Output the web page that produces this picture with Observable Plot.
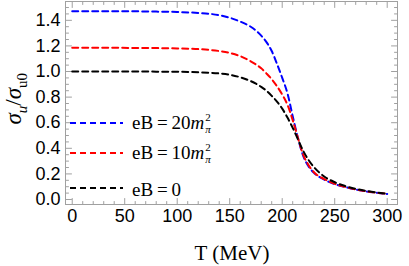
<!DOCTYPE html>
<html><head><meta charset="utf-8">
<script src="https://cdn.jsdelivr.net/npm/d3@7"></script>
<script src="https://cdn.jsdelivr.net/npm/@observablehq/plot@0.6"></script>
<style>
body{margin:0;background:#fff;}
#wrap{position:relative;width:409px;height:266px;overflow:hidden;}
.lg{position:absolute;font-family:"Liberation Serif","Times New Roman",serif !important;font-size:19px;color:#000;white-space:nowrap;line-height:1;}
.ss{display:inline-block;vertical-align:middle;font-size:11px;text-align:left;position:relative;top:-1px;margin-left:1px;}
.ss span{display:block;height:12.5px;line-height:12.5px;}
#ylab{position:absolute;font-family:"Liberation Serif","Times New Roman",serif !important;font-size:23px;white-space:nowrap;transform-origin:center center;line-height:1;}
#xlab{position:absolute;font-family:"Liberation Serif","Times New Roman",serif !important;font-size:21px;white-space:nowrap;line-height:1;}
</style></head>
<body><div id="wrap"></div>
<script>
const T = [0,20,40,60,80,100,120,140,150,160,170,175,180,185,190,195,200,205,210,215,220,225,230,240,250,260,270,280,290,300];
const eB20 = [1.47,1.47,1.47,1.47,1.468,1.465,1.457,1.44,1.42,1.39,1.35,1.32,1.28,1.23,1.16,1.06,0.95,0.83,0.65,0.48,0.34,0.26,0.21,0.155,0.12,0.097,0.078,0.063,0.052,0.043];
const eB10 = [1.185,1.185,1.185,1.184,1.183,1.18,1.175,1.16,1.145,1.12,1.08,1.055,1.025,0.985,0.94,0.885,0.82,0.74,0.62,0.48,0.35,0.27,0.215,0.16,0.122,0.098,0.079,0.064,0.053,0.044];
const eB0 = [1.0,1.0,1.0,1.0,0.999,0.998,0.994,0.985,0.975,0.955,0.925,0.905,0.88,0.85,0.81,0.765,0.71,0.64,0.56,0.47,0.38,0.31,0.255,0.18,0.135,0.105,0.083,0.067,0.055,0.045];
const seriesNames = ["eB=20","eB=10","eB=0"];
const seriesColors = ["#0000ff","#ff0000","#000000"];
const xTicks = [0,50,100,150,200,250,300];
const yTicks = [0,0.2,0.4,0.6,0.8,1.0,1.2,1.4];
const xMinor = d3.range(0,301,10);
const yMinor = d3.range(0,1.5001,0.05).map(v=>+v.toFixed(2));

const rows = [];
[eB20,eB10,eB0].forEach((s,i)=>s.forEach((v,j)=>rows.push({T:T[j],v,name:seriesNames[i]})));

const gray = "#a0a0a0";
const tickShape = {draw(ctx,l){ctx.moveTo(0,0);ctx.lineTo(0,-l);}};
function ticksX(vals,len,anchor,rot){return Plot.vector(vals,{x:d=>d,frameAnchor:anchor,length:len,rotate:rot,anchor:"start",shape:tickShape,stroke:gray,strokeWidth:1});}
function ticksY(vals,len,anchor,rot){return Plot.vector(vals,{y:d=>d,frameAnchor:anchor,length:len,rotate:rot,anchor:"start",shape:tickShape,stroke:gray,strokeWidth:1});}
const xMin = xMinor.filter(d=>!xTicks.includes(d));
const yMin = yMinor.filter(d=>!yTicks.some(t=>Math.abs(t-d)<1e-9));

const chart = Plot.plot({
  width:409,height:266,
  marginLeft:65,marginRight:12,marginTop:1,marginBottom:62,
  style:{fontFamily:"'Liberation Sans',Arial,sans-serif",background:"transparent"},
  x:{domain:[-6.4,309.8]},
  y:{domain:[-0.039,1.547]},
  color:{domain:seriesNames,range:seriesColors},
  marks:[
    Plot.frame({stroke:gray}),
    ticksX(xTicks,6,"bottom",0), ticksX(xMin,3,"bottom",0),
    ticksX(xTicks,6,"top",180), ticksX(xMin,3,"top",180),
    ticksY(yTicks,6,"left",90), ticksY(yMin,3,"left",90),
    ticksY(yTicks,6,"right",270), ticksY(yMin,3,"right",270),
    Plot.axisX(xTicks,{tickSize:0,tickPadding:5,fontSize:18,fill:"#000",label:null}),
    Plot.axisY(yTicks,{tickSize:0,tickPadding:5,fontSize:18,fill:"#000",label:null,tickFormat:d3.format(".1f")}),
    Plot.line(rows,{x:"T",y:"v",z:"name",stroke:"name",strokeWidth:2,strokeDasharray:"6,4",curve:"monotone-x"})
  ]
});
const wrap = document.getElementById("wrap");
chart.style.position="absolute";chart.style.left="0";chart.style.top="0";
wrap.appendChild(chart);

// legend overlay
const legendY = [123,153,188];
const legendHTML = [
  'eB\u2009=\u200920<i>m</i><span class="ss"><span>2</span><span><i>π</i></span></span>',
  'eB\u2009=\u200910<i>m</i><span class="ss"><span>2</span><span><i>π</i></span></span>',
  'eB\u2009=\u20090'
];
const svgNS="http://www.w3.org/2000/svg";
const lsvg=document.createElementNS(svgNS,"svg");
lsvg.setAttribute("width","409");lsvg.setAttribute("height","266");
lsvg.style.position="absolute";lsvg.style.left="0";lsvg.style.top="0";
wrap.appendChild(lsvg);
legendY.forEach((y,i)=>{
  const ln=document.createElementNS(svgNS,"line");
  ln.setAttribute("x1",70);ln.setAttribute("x2",123);ln.setAttribute("y1",y);ln.setAttribute("y2",y);
  ln.setAttribute("stroke",seriesColors[i]);ln.setAttribute("stroke-width",2);ln.setAttribute("stroke-dasharray","6,4");
  lsvg.appendChild(ln);
  const d=document.createElement("div");d.className="lg";d.innerHTML=legendHTML[i];
  wrap.appendChild(d);
  const rr=d.getBoundingClientRect();
  d.style.left="132px";d.style.top=(y+1-rr.height/2)+"px";
});
const yl=document.createElement("div");yl.id="ylab";
yl.innerHTML='<i>σ</i><sub style="font-size:15px"><i>u</i></sub>/<i>σ</i><sub style="font-size:15px">u0</sub>';
wrap.appendChild(yl);
const r=yl.getBoundingClientRect();
yl.style.left=(16-r.width/2)+"px";yl.style.top=(99-r.height/2)+"px";yl.style.transform="rotate(-90deg)";
const xl=document.createElement("div");xl.id="xlab";xl.textContent="T (MeV)";wrap.appendChild(xl);
const rx=xl.getBoundingClientRect();
xl.style.left=(232-rx.width/2)+"px";xl.style.top=(253-rx.height/2)+"px";
</script></body></html>
